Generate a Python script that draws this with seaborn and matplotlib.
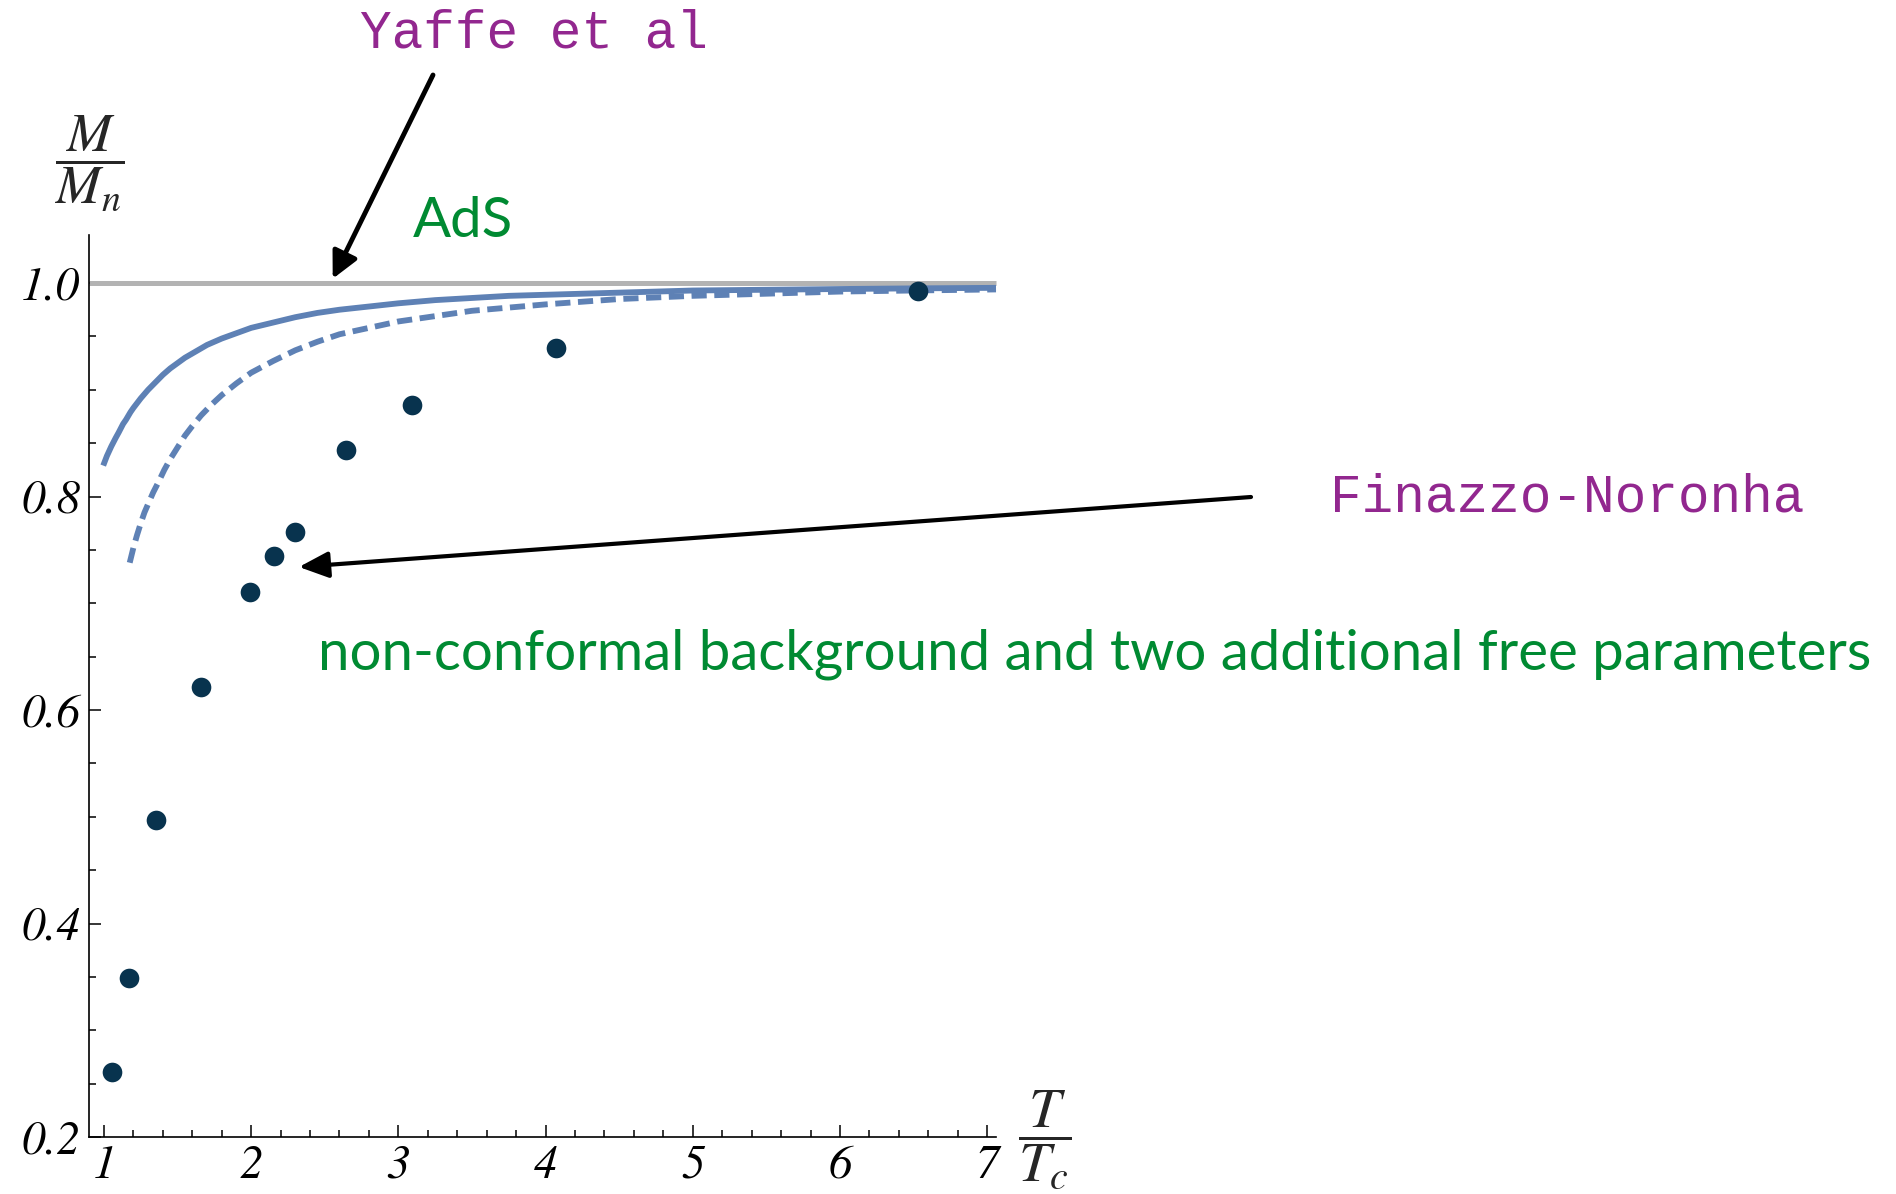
import matplotlib
matplotlib.use("Agg")
import matplotlib.pyplot as plt
import pandas as pd
import seaborn as sns
from matplotlib.ticker import MultipleLocator, FixedLocator, FixedFormatter

# Lattice screening masses (Yaffe et al), M/M_n versus T/T_c
t_lattice = [1.057, 1.172, 1.353, 1.657, 1.994, 2.158, 2.297, 2.643, 3.094, 4.071, 6.527]
m_lattice = [0.261, 0.349, 0.497, 0.622, 0.711, 0.744, 0.767, 0.844, 0.886, 0.939, 0.993]

# AdS (conformal) curve
t_ads = [0.995, 1.02, 1.05, 1.08, 1.10, 1.13, 1.15, 1.18, 1.20, 1.25, 1.30, 1.35, 1.40,
         1.45, 1.50, 1.55, 1.60, 1.70, 1.80, 1.90, 2.00, 2.15, 2.30, 2.45, 2.60, 2.80,
         3.00, 3.25, 3.50, 3.75, 4.00, 4.50, 5.00, 5.50, 6.00, 6.50, 7.06]
m_ads = [0.829, 0.838, 0.847, 0.855, 0.860, 0.868, 0.872, 0.879, 0.883, 0.892, 0.900,
         0.907, 0.914, 0.920, 0.925, 0.930, 0.934, 0.942, 0.948, 0.953, 0.958, 0.963,
         0.968, 0.972, 0.975, 0.978, 0.981, 0.984, 0.986, 0.988, 0.989, 0.991, 0.993,
         0.9937, 0.9944, 0.9950, 0.9955]

# Non-conformal background (Finazzo-Noronha) curve
t_nc = [1.175, 1.20, 1.225, 1.25, 1.275, 1.30, 1.335, 1.372, 1.41, 1.45, 1.50, 1.55,
        1.60, 1.66, 1.73, 1.80, 1.90, 2.00, 2.15, 2.30, 2.45, 2.60, 2.80, 3.00, 3.25,
        3.50, 3.75, 4.00, 4.50, 5.00, 5.50, 6.00, 6.50, 7.06]
m_nc = [0.738, 0.752, 0.764, 0.775, 0.785, 0.793, 0.804, 0.814, 0.825, 0.835, 0.846,
        0.857, 0.866, 0.876, 0.886, 0.895, 0.906, 0.916, 0.927, 0.937, 0.945, 0.952,
        0.958, 0.964, 0.969, 0.974, 0.977, 0.980, 0.985, 0.988, 0.990, 0.992, 0.993,
        0.994]

# Asymptotic (normalised) level
t_level = [0.895, 7.06]
m_level = [1.0, 1.0]

x_ticks = [1, 2, 3, 4, 5, 6, 7]
x_tick_labels = ["1", "2", "3", "4", "5", "6", "7"]
y_ticks = [0.2, 0.4, 0.6, 0.8, 1.0]
y_tick_labels = ["0.2", "0.4", "0.6", "0.8", "1.0"]

W, H = 1896, 1194
sns.set_theme(style="ticks")
plt.rcParams["font.family"] = ["DejaVu Sans"]
plt.rcParams["mathtext.fontset"] = "stix"

fig = plt.figure(figsize=(W / 100, H / 100), dpi=100)
ax = fig.add_axes([88.5 / W, (H - 1137) / H, (996 - 88.5) / W, (1137 - 235) / H])

blue = "#5E81B5"
sns.lineplot(x=t_level, y=m_level, ax=ax, color="#B3B3B3", zorder=1, clip_on=False, sort=False)
sns.lineplot(x=t_ads, y=m_ads, ax=ax, color=blue, zorder=2, clip_on=False)
sns.lineplot(x=t_nc, y=m_nc, ax=ax, color=blue, zorder=2, clip_on=False)
level_line, ads_line, nc_line = ax.lines[-3:]
level_line.set_linewidth(3.6)
ads_line.set_linewidth(4.2)
nc_line.set_linewidth(4.2)
for ln in (level_line, ads_line, nc_line):
    ln.set_solid_capstyle("butt")
nc_line.set_dashes((2.6, 1.3))
nc_line.set_dash_capstyle("butt")
sns.scatterplot(x=t_lattice, y=m_lattice, ax=ax, color="#08334E", s=200, linewidth=0, zorder=3)

ax.set_xlim(0.895, 7.06)
ax.set_ylim(0.2, 1.045)
for side in ["top", "right"]:
    ax.spines[side].set_visible(False)
for side in ["left", "bottom"]:
    ax.spines[side].set_linewidth(1.2)
    ax.spines[side].set_color("black")

ax.xaxis.set_major_locator(FixedLocator(x_ticks))
ax.xaxis.set_major_formatter(FixedFormatter(x_tick_labels))
ax.xaxis.set_minor_locator(MultipleLocator(0.2))
ax.yaxis.set_major_locator(FixedLocator(y_ticks))
ax.yaxis.set_major_formatter(FixedFormatter(y_tick_labels))
ax.yaxis.set_minor_locator(MultipleLocator(0.05))
ax.tick_params(which="both", direction="in", color="black", width=1.1)
ax.tick_params(which="major", length=8.6)
ax.tick_params(which="minor", length=5.0)
ax.tick_params(axis="x", which="major", pad=6)
ax.tick_params(axis="y", which="major", pad=6)
for lab in ax.get_xticklabels() + ax.get_yticklabels():
    lab.set_fontfamily("STIXGeneral")
    lab.set_fontstyle("italic")
    lab.set_fontsize(34)
    lab.set_color("black")
ax.set_xlabel("")
ax.set_ylabel("")

# axis fractions
fig.text(89.5 / W, 1 - 163 / H, r"$\dfrac{M}{M_n}$", ha="center", va="center", fontsize=39)
fig.text(1045 / W, 1 - 1140 / H, r"$\dfrac{T}{T_c}$", ha="center", va="center", fontsize=41)

purple = "#92278F"
green = "#008A32"
fig.text(360 / W, 1 - 47 / H, "Yaffe et al", family="Liberation Mono", fontsize=38,
         color=purple, ha="left", va="baseline")
fig.text(1330 / W, 1 - 511 / H, "Finazzo-Noronha", family="Liberation Mono", fontsize=38,
         color=purple, ha="left", va="baseline")

long_txt = fig.text(318 / W, 1 - 670 / H,
                    "non-conformal background and two additional free parameters",
                    family="Lato", fontsize=42, color=green, ha="left", va="baseline")
fig.canvas.draw()
bb = long_txt.get_window_extent(fig.canvas.get_renderer())
fs = 42 * (1556 / bb.width)
long_txt.set_fontsize(fs)
fig.text(413 / W, 1 - 237 / H, "AdS", family="Lato", fontsize=fs, color=green,
         ha="left", va="baseline")

# arrows
ax.annotate("", xy=(2.554, 1.004), xycoords="data",
            xytext=(433 / W, 1 - 75 / H), textcoords="figure fraction",
            arrowprops=dict(arrowstyle="-|>,head_length=16,head_width=8", mutation_scale=1,
                            lw=3.5, color="black", shrinkA=0, shrinkB=0), zorder=5)
ax.annotate("", xy=(2.325, 0.734), xycoords="data",
            xytext=(1251 / W, 1 - 497 / H), textcoords="figure fraction",
            arrowprops=dict(arrowstyle="-|>,head_length=18,head_width=8", mutation_scale=1,
                            lw=3.0, color="black", shrinkA=0, shrinkB=0), zorder=5)

fig.savefig("out.png", dpi=100, facecolor="white")
